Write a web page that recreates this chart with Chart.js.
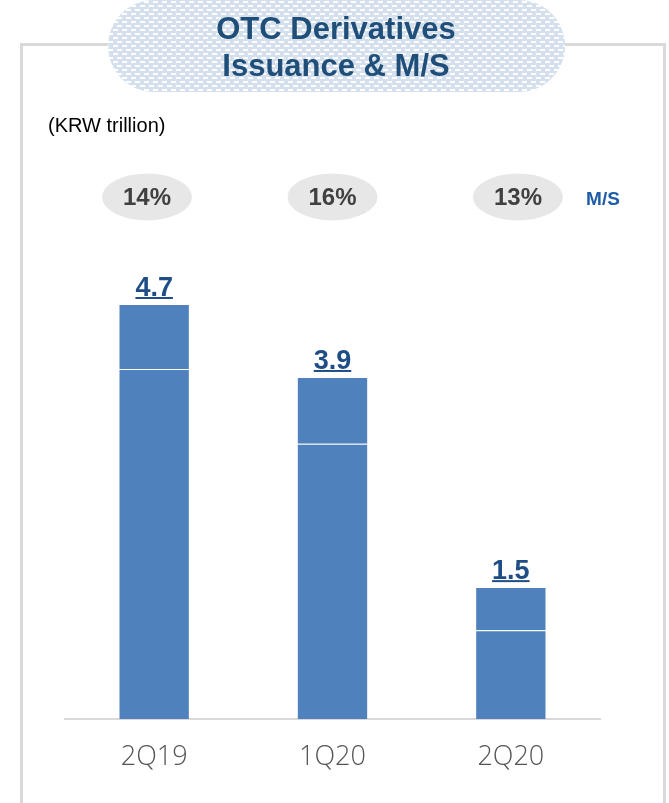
<!DOCTYPE html>
<html>
<head>
<meta charset="utf-8">
<style>
  html, body { margin: 0; padding: 0; background: #fff; }
  #wrap { width: 669px; height: 803px; }
</style>
<script src="https://cdn.jsdelivr.net/npm/chart.js@4"></script>
</head>
<body>
<div id="wrap"><canvas id="otcChart" width="669" height="803"></canvas></div>
<script>
  /* Data */
  var categories = ['2Q19', '1Q20', '2Q20'];
  var baseValues = [3.98, 3.13, 1.01];
  var topValues = [0.74, 0.76, 0.49];
  var totalLabels = ['4.7', '3.9', '1.5'];
  var marketShare = ['14%', '16%', '13%'];

  var FONT = '"Liberation Sans", Arial, sans-serif';
  var BAR = '#4f81bd';
  var NAVY = '#1f4e87';

  function makePattern(ctx) {
    var p = document.createElement('canvas');
    p.width = 9; p.height = 8;
    var c = p.getContext('2d');
    c.fillStyle = '#d5e0ef';
    c.fillRect(0, 0, 9, 8);
    c.fillStyle = '#ffffff';
    c.fillRect(0, 1, 5, 2);
    c.fillRect(5, 5, 4, 2);
    c.fillRect(0, 5, 1, 2);
    return ctx.createPattern(p, 'repeat');
  }

  function pill(ctx, x, y, w, h) {
    var r = h / 2;
    ctx.beginPath();
    ctx.moveTo(x + r, y);
    ctx.lineTo(x + w - r, y);
    ctx.arc(x + w - r, y + r, r, -Math.PI / 2, Math.PI / 2);
    ctx.lineTo(x + r, y + h);
    ctx.arc(x + r, y + r, r, Math.PI / 2, Math.PI * 1.5);
    ctx.closePath();
  }

  var decor = {
    id: 'decor',
    beforeDraw: function (chart) {
      var ctx = chart.ctx;
      ctx.save();
      // frame
      ctx.strokeStyle = '#d9d9d9';
      ctx.lineWidth = 3;
      ctx.beginPath();
      ctx.moveTo(21.5, 810);
      ctx.lineTo(21.5, 44.5);
      ctx.lineTo(664.5, 44.5);
      ctx.lineTo(664.5, 810);
      ctx.stroke();

      // title bubble
      pill(ctx, 108, 0, 457, 92);
      ctx.fillStyle = makePattern(ctx);
      ctx.fill();
      ctx.fillStyle = '#1f4e79';
      ctx.font = 'bold 31px ' + FONT;
      ctx.textAlign = 'center';
      ctx.textBaseline = 'alphabetic';
      ctx.fillText('OTC Derivatives', 336, 39);
      ctx.fillText('Issuance & M/S', 336, 76);

      // unit
      ctx.fillStyle = '#000';
      ctx.font = '20px ' + FONT;
      ctx.textAlign = 'left';
      ctx.fillText('(KRW trillion)', 48, 132);

      // market share ellipses
      var meta = chart.getDatasetMeta(1);
      var mid = (chart.chartArea.left + chart.chartArea.right) / 2;
      meta.data.forEach(function (bar, i) {
        var cx = mid + (bar.x - mid) * 1.04;
        ctx.fillStyle = '#e7e7e7';
        ctx.beginPath();
        ctx.ellipse(cx, 197, 45, 23.5, 0, 0, Math.PI * 2);
        ctx.fill();
        ctx.fillStyle = '#404040';
        ctx.font = 'bold 24px ' + FONT;
        ctx.textAlign = 'center';
        ctx.textBaseline = 'middle';
        ctx.fillText(marketShare[i], cx, 198);
      });
      ctx.fillStyle = '#1f5ca6';
      ctx.font = 'bold 19px ' + FONT;
      ctx.textAlign = 'center';
      ctx.textBaseline = 'middle';
      ctx.fillText('M/S', 603, 200);
      ctx.restore();
    },
    afterDatasetsDraw: function (chart) {
      var ctx = chart.ctx;
      var meta = chart.getDatasetMeta(1);
      ctx.save();
      ctx.font = 'bold 27px ' + FONT;
      ctx.fillStyle = NAVY;
      ctx.textAlign = 'center';
      ctx.textBaseline = 'alphabetic';
      meta.data.forEach(function (bar, i) {
        var y = bar.y - 8;
        ctx.fillText(totalLabels[i], bar.x, y);
        var w = ctx.measureText(totalLabels[i]).width;
        ctx.fillRect(bar.x - w / 2, y + 1, w, 2);
      });
      ctx.restore();
    }
  };

  new Chart(document.getElementById('otcChart').getContext('2d'), {
    type: 'bar',
    data: {
      labels: categories,
      datasets: [{
        data: baseValues,
        backgroundColor: BAR,
        borderColor: 'rgba(255,255,255,0.15)',
        borderWidth: 1
      }, {
        data: topValues,
        backgroundColor: BAR,
        borderColor: 'rgba(255,255,255,0.15)',
        borderWidth: 1
      }]
    },
    options: {
      responsive: false,
      animation: false,
      devicePixelRatio: 1,
      barPercentage: 0.8,
      categoryPercentage: 0.5,
      layout: { padding: { left: 65, right: 69, top: 253, bottom: 0 } },
      scales: {
        x: {
          stacked: true,
          grid: { display: false, drawTicks: false },
          border: { color: '#d9d9d9', width: 2 },
          ticks: {
            color: '#555555',
            padding: 22,
            font: { family: '"Open Sans", "Noto Sans", sans-serif', size: 27, weight: '300' }
          },
          afterFit: function (s) { s.height = 84; }
        },
        y: {
          stacked: true,
          display: false,
          min: 0,
          max: 5.3
        }
      },
      plugins: {
        legend: { display: false },
        tooltip: { enabled: false }
      }
    },
    plugins: [decor]
  });
</script>
</body>
</html>
